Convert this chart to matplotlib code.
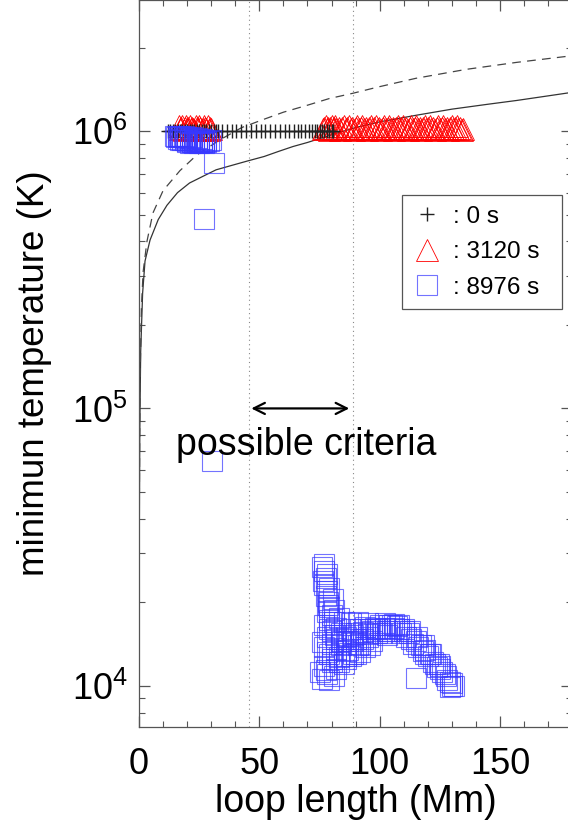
import numpy as np
import matplotlib
matplotlib.use("Agg")
import matplotlib.pyplot as plt
from matplotlib.ticker import MultipleLocator, LogLocator, NullFormatter

plt.rcParams['font.family'] = ['Liberation Sans', 'DejaVu Sans']

# scaling-law curves
solid_x = [0.02, 0.1, 0.3, 0.7, 1.5, 2.5, 4.6, 8, 11.6, 16, 21, 27, 32, 38, 45, 52, 58, 64, 70, 80, 90,
           100, 115, 130, 145, 157, 170, 180]
solid_T = [9.5e3, 3e4, 8e4, 1.6e5, 2.6e5, 3.4e5, 4.05e5, 4.8e5, 5.4e5, 6.0e5, 6.5e5, 6.9e5, 7.25e5,
           7.5e5, 7.8e5, 8.1e5, 8.45e5, 8.8e5, 9.1e5, 9.7e5, 1.03e6, 1.08e6, 1.14e6, 1.2e6, 1.25e6,
           1.29e6, 1.34e6, 1.38e6]
dash_x = [0.02, 0.1, 0.4, 1, 1.7, 3.3, 5.8, 10, 17, 24, 33.6, 42.7, 51.5, 60, 70, 79, 89, 99, 115,
          136, 157, 180]
dash_T = [9.5e3, 4e4, 1.2e5, 2.3e5, 3.1e5, 4.0e5, 5.07e5, 6.1e5, 7.2e5, 8.2e5, 9.3e5, 1.03e6, 1.1e6,
          1.17e6, 1.24e6, 1.31e6, 1.37e6, 1.44e6, 1.55e6, 1.67e6, 1.77e6, 1.87e6]

# t = 0 s
t0_x = [12, 13, 14, 15, 16, 17, 18, 19, 20, 21, 22, 23, 24, 25, 26, 27, 28, 29, 30, 31, 32, 33,
        34.5, 36.5, 38.5, 40.5, 42.5, 44.5, 46.5, 48.5, 50.5, 52.5, 54.5, 56.5, 58.5, 60.5, 62.5,
        64.5, 66, 67.5, 69, 70.5, 72, 73, 74, 75, 76, 77, 78, 79, 80, 80.5]
t0_T = [1e6] * len(t0_x)

# t = 3120 s  (left group, right group)
t1a_x = [16.5, 17, 17.5, 18, 18.5, 19, 19.5, 20, 20.5, 21, 21.5, 22, 22.5, 23, 23.5, 24, 24.5, 25,
         25.5, 26, 26.5, 27, 27.5, 28, 28.5, 29, 29.5, 30]
t1a_T = [1.04e6, 1.02e6, 1.03e6, 1.04e6, 1.01e6, 1.03e6, 1.04e6, 1.02e6, 1.03e6, 1.04e6, 1.02e6,
         1.03e6, 1.02e6, 1.01e6, 1.04e6, 1.03e6, 1.02e6, 1.04e6, 1.03e6, 1.01e6, 1.02e6, 1.04e6,
         1.03e6, 1.02e6, 1.04e6, 1.01e6, 1.03e6, 1.02e6]
t1b_x = [76.5, 77, 77.5, 78, 78.5, 79, 79.5, 80, 80.5, 81, 81.5, 82, 83, 83.7, 84.4, 85.1, 85.8,
         86.5, 87.2, 87.9, 88.6, 89.3, 90, 90.7, 91.4, 92.1, 92.8, 93.5, 94.2, 94.9, 95.6, 96.3,
         97, 97.7, 98.4, 99.1, 99.8, 100.5, 101.2, 101.9, 102.6, 103.3, 104, 104.7, 105.4, 106.1,
         106.8, 107.5, 108.2, 108.9, 109.6, 110.3, 111, 111.7, 112.4, 113.1, 113.8, 114.5, 115.2,
         115.9, 116.6, 117.3, 118, 118.7, 119.4, 120.1, 120.8, 121.5, 122.2, 122.9, 123.6, 124.3,
         125, 125.7, 126.4, 127.1, 127.8, 128.5, 129.2, 129.9, 130.6, 131.3, 132, 132.7, 133.4,
         134.1, 134.8]
t1b_T = [1.02e6, 1.03e6, 1.04e6, 1.02e6, 1.03e6, 1.01e6, 1.03e6, 1.04e6, 1.02e6, 1.03e6, 1.04e6,
         1.02e6, 1.03e6, 1.01e6, 1.03e6, 1.04e6, 1.02e6, 1.03e6, 1.04e6, 1.02e6, 1.03e6, 1.01e6,
         1.03e6, 1.04e6, 1.02e6, 1.03e6, 1.04e6, 1.02e6, 1.03e6, 1.01e6, 1.03e6, 1.04e6, 1.02e6,
         1.03e6, 1.04e6, 1.02e6, 1.03e6, 1.01e6, 1.03e6, 1.04e6, 1.02e6, 1.03e6, 1.04e6, 1.02e6,
         1.03e6, 1.01e6, 1.03e6, 1.04e6, 1.02e6, 1.03e6, 1.04e6, 1.02e6, 1.03e6, 1.01e6, 1.03e6,
         1.04e6, 1.02e6, 1.03e6, 1.04e6, 1.02e6, 1.03e6, 1.01e6, 1.03e6, 1.04e6, 1.02e6, 1.03e6,
         1.04e6, 1.02e6, 1.03e6, 1.01e6, 1.03e6, 1.04e6, 1.02e6, 1.03e6, 1.04e6, 1.02e6, 1.03e6,
         1.01e6, 1.03e6, 1.04e6, 1.02e6, 1.03e6, 1.04e6, 1.02e6, 1.03e6, 1.01e6, 1.02e6]
t1_x = t1a_x + t1b_x
t1_T = t1a_T + t1b_T

# t = 8976 s
t2_x = [15, 15.5, 16, 16.5, 17, 17.5, 18, 18.5, 19, 19.5, 20, 21, 22, 23, 24, 25, 26, 27,
        16, 17, 18, 19, 20, 21, 22, 23, 24, 25, 26, 27, 28,
        20, 21, 22, 23, 24, 25, 26, 27, 28, 29, 30,
        31, 27, 30.3,
        77, 77, 77.5, 77, 78, 77.5, 78.5, 79, 78, 80, 79, 81, 77, 82, 80, 84, 78, 82, 86, 80, 84, 77,
        82, 86, 79, 83, 88, 80, 85, 77, 82, 75, 78, 81, 76, 79,
        76, 78, 76.5, 79, 80.5, 78.5, 81, 83, 85, 79, 81.5, 84, 87, 76, 78, 80, 83, 86, 89, 77.5,
        88, 90, 92, 94, 96, 98, 100, 102, 104, 106, 108, 110, 89, 91, 93, 95, 97, 99, 101, 103,
        87, 90, 92, 94, 96, 88, 95, 102, 106, 91, 89, 93, 97, 100, 104, 107, 92, 95, 99, 103,
        105, 108, 86, 90,
        109, 111, 112, 113, 114, 115, 116, 117, 118, 119, 120, 121, 122, 123, 124, 125, 126, 127,
        128, 129, 130, 130, 129, 131, 110, 112.5, 115.5, 118.5, 121.5, 124.5, 127.5, 119, 125,
        115]
t2_T = [9.6e5, 9.55e5, 9.6e5, 9.5e5, 9.6e5, 9.55e5, 9.5e5, 9.6e5, 9.45e5, 9.55e5, 9.5e5, 9.45e5,
        9.5e5, 9.4e5, 9.45e5, 9.4e5, 9.35e5, 9.3e5,
        9.35e5, 9.3e5, 9.25e5, 9.3e5, 9.2e5, 9.25e5, 9.15e5, 9.2e5, 9.15e5, 9.2e5, 9.1e5, 9.15e5, 9.2e5,
        9.1e5, 9.05e5, 9.1e5, 9.05e5, 9.1e5, 9.05e5, 9.1e5, 9.05e5, 9.1e5, 9.2e5, 9.3e5,
        7.7e5, 4.84e5, 6.45e4,
        2.75e4, 2.6e4, 2.45e4, 2.3e4, 2.2e4, 2.1e4, 2.0e4, 1.92e4, 1.85e4, 1.8e4, 1.72e4, 1.7e4, 1.65e4,
        1.62e4, 1.58e4, 1.55e4, 1.5e4, 1.48e4, 1.5e4, 1.42e4, 1.4e4, 1.38e4, 1.35e4, 1.33e4, 1.3e4,
        1.27e4, 1.28e4, 1.22e4, 1.2e4, 1.18e4, 1.15e4, 1.12e4, 1.1e4, 1.08e4, 1.06e4, 1.05e4,
        2.68e4, 2.52e4, 2.38e4, 2.25e4, 2.05e4, 1.95e4, 1.88e4, 1.75e4, 1.7e4, 1.6e4, 1.52e4, 1.45e4,
        1.45e4, 1.44e4, 1.32e4, 1.25e4, 1.22e4, 1.25e4, 1.3e4, 1.14e4,
        1.6e4, 1.55e4, 1.6e4, 1.63e4, 1.6e4, 1.62e4, 1.65e4, 1.62e4, 1.65e4, 1.62e4, 1.6e4, 1.58e4,
        1.45e4, 1.4e4, 1.48e4, 1.5e4, 1.45e4, 1.55e4, 1.55e4, 1.52e4,
        1.35e4, 1.3e4, 1.32e4, 1.38e4, 1.4e4, 1.68e4, 1.68e4, 1.68e4, 1.67e4, 1.7e4, 1.52e4, 1.56e4,
        1.58e4, 1.6e4, 1.58e4, 1.64e4, 1.42e4, 1.54e4, 1.6e4, 1.58e4, 1.66e4, 1.65e4, 1.28e4, 1.48e4,
        1.55e4, 1.5e4, 1.55e4, 1.47e4, 1.42e4, 1.45e4, 1.38e4, 1.4e4, 1.33e4, 1.35e4, 1.28e4, 1.3e4,
        1.22e4, 1.2e4, 1.17e4, 1.18e4, 1.12e4, 1.1e4, 1.05e4, 1.03e4, 1.0e4, 1.02e4, 9.9e3, 1.0e4,
        1.6e4, 1.58e4, 1.5e4, 1.4e4, 1.3e4, 1.2e4, 1.08e4, 1.3e4, 1.15e4,
        1.07e4]

criteria_x = [45.5, 88.8]
labels = [': 0 s', ': 3120 s', ': 8976 s']

fig = plt.figure(figsize=(5.68, 8.27), dpi=100)
ax = fig.add_axes([139 / 568, 100 / 827, 180 * 2.407 / 568, 727 / 827])

ax.plot(solid_x, solid_T, color='#333333', lw=0.9)
ax.plot(dash_x, dash_T, color='#444444', lw=0.9, dashes=(7, 5))
for cx in criteria_x:
    ax.axvline(cx, color='#888888', lw=0.8, ls=(0, (1, 3)))

ax.plot(t1_x, t1_T, ls='none', marker='^', ms=16, mfc='none', mec='red', mew=0.6, label=labels[1])
ax.plot(t0_x, t0_T, ls='none', marker='+', ms=9.5, color='#222222', mew=1.0, label=labels[0])
ax.plot(t2_x, t2_T, ls='none', marker='s', ms=15, mfc='none', mec=(0.22, 0.22, 1.0), mew=0.8,
        alpha=0.7, label=labels[2])

ax.annotate('', xy=(45.5, 1e5), xytext=(88.5, 1e5),
            arrowprops=dict(arrowstyle='<->', color='black', lw=1.6, mutation_scale=20))
ax.text(69.5, 7.4e4, 'possible criteria', fontsize=27, ha='center', va='center')

ax.set_yscale('log')
ax.set_xlim(0, 180)
ax.set_ylim(7.1e3, 2.97e6)
ax.xaxis.set_major_locator(MultipleLocator(50))
ax.xaxis.set_minor_locator(MultipleLocator(10))
ax.yaxis.set_minor_locator(LogLocator(base=10, subs=np.arange(2, 10)))
ax.yaxis.set_minor_formatter(NullFormatter())
ax.tick_params(which='both', direction='in', top=True, right=True, color='#555555', labelsize=26)
ax.tick_params(which='major', length=8, width=0.9)
ax.tick_params(which='minor', length=4.5, width=0.8)
ax.tick_params(axis='x', pad=14.5)
ax.tick_params(axis='y', pad=8)
for s in ax.spines.values():
    s.set_color('#555555')
    s.set_linewidth(0.9)

ax.set_xlabel('loop length (Mm)', fontsize=27)
ax.set_ylabel('minimun temperature (K)', fontsize=26.5)
ax.yaxis.set_label_coords(-0.2, 0.487)
ax.xaxis.labelpad = 1

h, l = ax.get_legend_handles_labels()
order = [1, 0, 2]
leg = ax.legend([h[i] for i in order], [l[i] for i in order], loc='upper left',
                bbox_to_anchor=(0.608, 0.572, 0.369, 0.16), mode='expand', borderaxespad=0,
                fontsize=17.5, numpoints=1, handlelength=1.1, handletextpad=0.55,
                labelspacing=0.55, borderpad=0.45, fancybox=False, framealpha=1,
                edgecolor='#555555')
leg.get_frame().set_linewidth(0.9)

fig.savefig('out.png', dpi=100)
